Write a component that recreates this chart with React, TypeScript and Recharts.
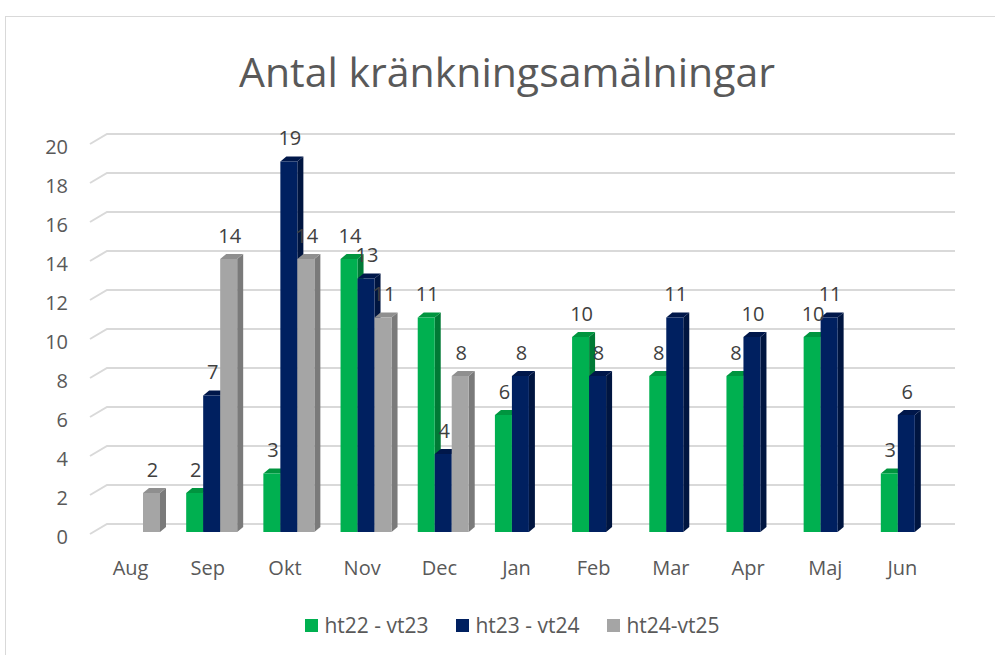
import React from "react";
import { BarChart, Bar, XAxis, YAxis, CartesianGrid, LabelList } from "recharts";

const months = ["Aug", "Sep", "Okt", "Nov", "Dec", "Jan", "Feb", "Mar", "Apr", "Maj", "Jun"];
const ht22vt23 = [null, 2, 3, 14, 11, 6, 10, 8, 8, 10, 3];
const ht23vt24 = [null, 7, 19, 13, 4, 8, 8, 11, 10, 11, 6];
const ht24vt25 = [2, 14, 14, 11, 8, null, null, null, null, null, null];
const yTicks = [0, 2, 4, 6, 8, 10, 12, 14, 16, 18, 20];

const series = [
  { key: "a", name: "ht22 - vt23", fill: "#00B050", top: "#00953F", side: "#007A35" },
  { key: "b", name: "ht23 - vt24", fill: "#002060", top: "#00174A", side: "#001540" },
  { key: "c", name: "ht24-vt25", fill: "#A5A5A5", top: "#8F8F8F", side: "#7A7A7A" },
];

const data = months.map((m, i) => ({ month: m, a: ht22vt23[i], b: ht23vt24[i], c: ht24vt25[i] }));

const FONT = "'Open Sans', sans-serif";
const DX = 6;
const DY = -5;

function makeShape(fill: string, top: string, side: string) {
  return (props: any) => {
    const { x, y, width, height } = props;
    if (height == null || height <= 0) return <g />;
    const b = y + height;
    return (
      <g>
        <path d={`M${x + width},${y} L${x + width + DX},${y + DY} L${x + width + DX},${b + DY} L${x + width},${b} Z`} fill={side} />
        <path d={`M${x},${y} L${x + DX},${y + DY} L${x + width + DX},${y + DY} L${x + width},${y} Z`} fill={top} />
        <rect x={x} y={y} width={width} height={height} fill={fill} />
      </g>
    );
  };
}

const valueLabel = (props: any) => {
  const { x, y, width, value } = props;
  if (value == null) return null;
  return (
    <text x={x + width / 2 + 1} y={y - 24} textAnchor="middle" dominantBaseline="central"
      fill="#404040" fontSize={20} fontFamily={FONT}>
      {value}
    </text>
  );
};

const gridLine = (props: any) => {
  const { x1, x2, y1, key } = props;
  return (
    <path key={key} d={`M${x1 - 6},${y1 + 2} L${x1 + 11},${y1 - 8} L${x2 + 10},${y1 - 8}`}
      fill="none" stroke="#D9D9D9" strokeWidth={2} />
  );
};

const YTick = (props: any) => (
  <text x={props.x} y={props.y + 4} textAnchor="end" dominantBaseline="central"
    fill="#595959" fontSize={20} fontFamily={FONT}>
    {props.payload.value}
  </text>
);

const XTick = (props: any) => (
  <text x={props.x - 4} y={props.y} textAnchor="middle" dominantBaseline="central"
    fill="#595959" fontSize={20} fontFamily={FONT}>
    {props.payload.value}
  </text>
);

export default function App() {
  return (
    <div style={{ position: "absolute", left: 0, top: 0, width: 995, height: 655, background: "#fff", overflow: "hidden" }}>
      <div style={{ position: "absolute", left: 5, top: 16, width: 1100, height: 800, border: "1px solid #D9D9D9" }} />
      <div style={{ position: "absolute", left: 0, top: 43, width: 1014, textAlign: "center", fontFamily: FONT,
        fontSize: 41, lineHeight: "56px", color: "#595959" }}>
        Antal kränkningsamälningar
      </div>
      <div style={{ position: "absolute", left: 0, top: 0 }}>
        <BarChart width={995} height={655} data={data} barSize={17} barGap={0}
          margin={{ top: 142, right: 50, bottom: 93, left: 0 }}>
          <CartesianGrid vertical={false} horizontal={gridLine} />
          <XAxis dataKey="month" axisLine={false} tickLine={false} tickSize={0} tickMargin={35} tick={XTick}
            height={30} interval={0} />
          <YAxis domain={[0, 20]} ticks={yTicks} axisLine={false} tickLine={false} tickSize={0} tickMargin={28}
            width={96} tick={YTick} interval={0} />
          {series.map((s) => (
            <Bar key={s.key} dataKey={s.key} name={s.name} fill={s.fill} isAnimationActive={false}
              shape={makeShape(s.fill, s.top, s.side)}>
              <LabelList dataKey={s.key} content={valueLabel} />
            </Bar>
          ))}
        </BarChart>
      </div>
      <div style={{ position: "absolute", left: 0, top: 611, width: 995, display: "flex", justifyContent: "center",
        paddingLeft: 30, boxSizing: "border-box", fontFamily: FONT, fontSize: 21, lineHeight: "28px", color: "#595959" }}>
        {series.map((s) => (
          <div key={s.key} style={{ display: "flex", alignItems: "center", margin: "0 14px" }}>
            <span style={{ width: 13, height: 13, background: s.fill, display: "inline-block", marginRight: 6 }} />
            <span>{s.name}</span>
          </div>
        ))}
      </div>
    </div>
  );
}
